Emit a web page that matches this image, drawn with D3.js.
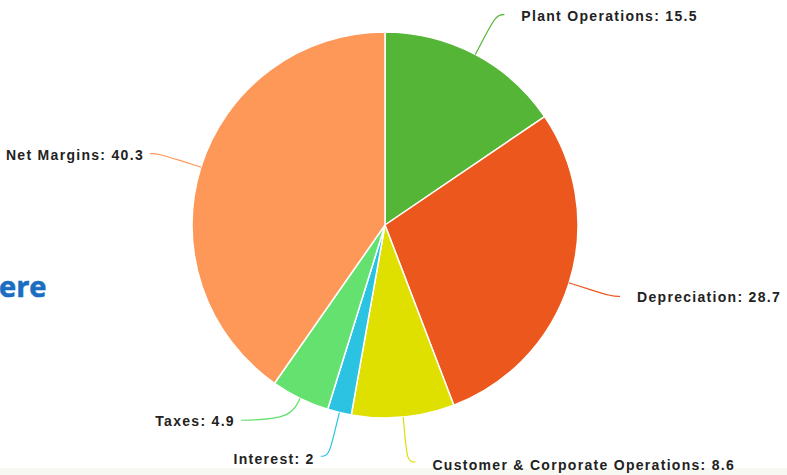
<!DOCTYPE html>
<html>
<head>
<meta charset="utf-8">
<script src="https://cdn.jsdelivr.net/npm/d3@7"></script>
<style>
  body { margin: 0; background: #fff; }
  svg { display: block; }
</style>
</head>
<body>
<svg id="mainsvg"></svg>
<script>
// data
const categories = ["Plant Operations", "Depreciation", "Customer & Corporate Operations", "Interest", "Taxes", "Net Margins"];
const values = [15.5, 28.7, 8.6, 2, 4.9, 40.3];
const colors = ["#55b536", "#ec571d", "#dfdf00", "#2bc3e1", "#64e16e", "#fd9858"];

const width = 787, height = 475;
const cx = 385, cy = 225, r = 193;
const labelDist = 45;

const svg = d3.select("#mainsvg")
    .attr("width", width)
    .attr("height", height)
    .attr("viewBox", [0, 0, width, height]);

// faint strip at the bottom of the screenshot
svg.append("rect")
    .attr("x", 0).attr("y", 468).attr("width", width).attr("height", height - 468)
    .attr("fill", "#f8f8f2");

// cropped blue heading on the left
svg.append("text")
    .attr("x", -1).attr("y", 297)
    .style("font", "bold 29px 'Open Sans', sans-serif")
    .attr("fill", "#1a6dc1")
    .attr("stroke", "#1a6dc1")
    .attr("stroke-width", 0.6)
    .text("ere");

const data = categories.map((name, i) => ({ name, value: values[i], color: colors[i] }));

const pie = d3.pie().sort(null).value(d => d.value);
const arcs = pie(data);
const arc = d3.arc().innerRadius(0).outerRadius(r);

const g = svg.append("g").attr("transform", `translate(${cx},${cy})`);

g.selectAll("path.slice")
    .data(arcs)
    .join("path")
    .attr("class", "slice")
    .attr("d", arc)
    .attr("fill", d => d.data.color)
    .attr("stroke", "#fff")
    .attr("stroke-width", 1.5)
    .attr("stroke-linejoin", "round");

// label layout (highcharts-like)
const R = r + labelDist;
arcs.forEach(d => {
    d.mid = (d.startAngle + d.endAngle) / 2;
    d.right = Math.sin(d.mid) >= 0;
    d.ly = -Math.cos(d.mid) * R;
});
// push overlapping labels on the left side upward
const left = arcs.filter(d => !d.right).sort((a, b) => b.ly - a.ly);
for (let i = 1; i < left.length; i++) {
    if (left[i - 1].ly - left[i].ly < 36) left[i].ly = left[i - 1].ly - 36;
}
arcs.forEach(d => {
    const dy = Math.max(-R, Math.min(R, d.ly));
    const dx = Math.sqrt(R * R - dy * dy) + 8;
    d.lx = d.right ? dx : -dx;
});

const line = d3.line().curve(d3.curveBasis);
g.selectAll("path.connector")
    .data(arcs)
    .join("path")
    .attr("class", "connector")
    .attr("fill", "none")
    .attr("stroke", d => d.data.color)
    .attr("stroke-width", 1.2)
    .attr("d", d => {
        const e = [Math.sin(d.mid) * r, -Math.cos(d.mid) * r];
        const m = [Math.sin(d.mid) * (r + 22), -Math.cos(d.mid) * (r + 22)];
        const s = d.right ? 1 : -1;
        return line([e, m, [d.lx - s * 8, d.ly], [d.lx, d.ly]]);
    });

g.selectAll("text.label")
    .data(arcs)
    .join("text")
    .attr("class", "label")
    .attr("x", d => d.lx + (d.right ? 17 : -6))
    .attr("y", d => d.ly + (d.ly > 230 ? 3 : 1))
    .attr("dy", "0.35em")
    .attr("text-anchor", d => d.right ? "start" : "end")
    .style("font", "bold 14px 'Liberation Sans', Arial, sans-serif")
    .style("letter-spacing", "1.3px")
    .attr("fill", "#222")
    .text(d => `${d.data.name}: ${d.data.value}`);
</script>
</body>
</html>
